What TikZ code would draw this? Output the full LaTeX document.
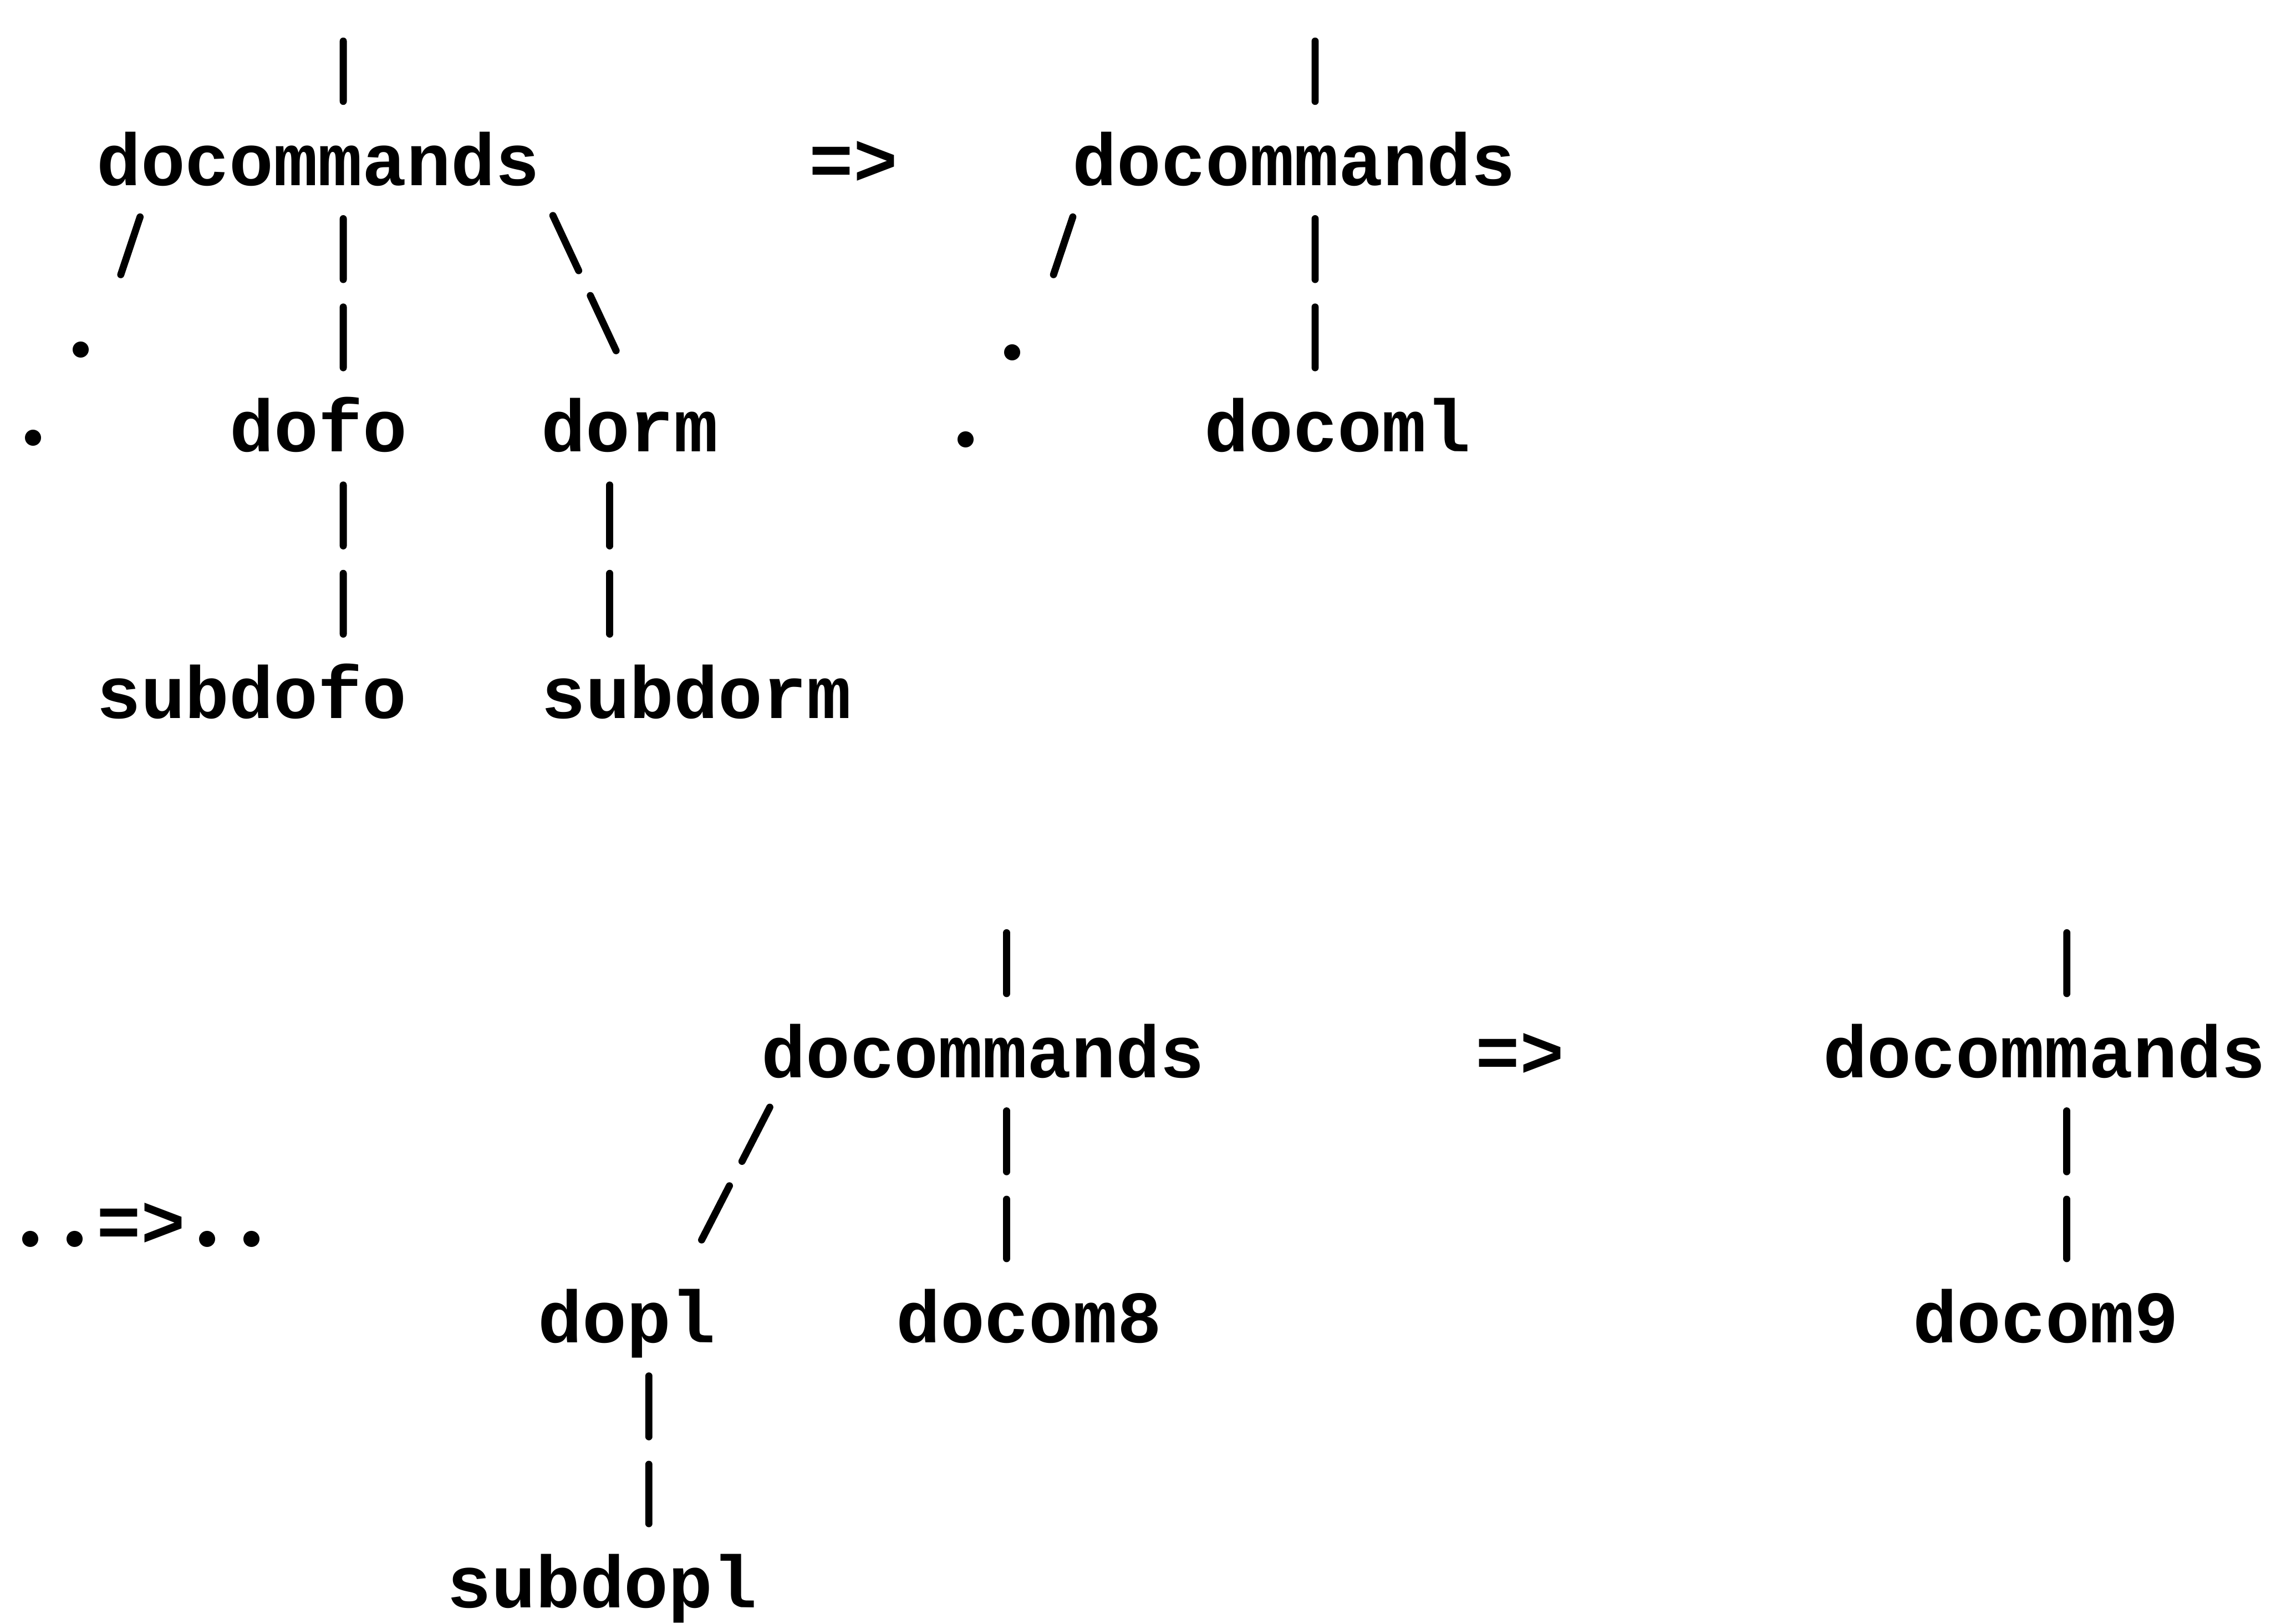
\documentclass[tikz,border=0pt]{standalone}
\usepackage{fontspec}
\setmonofont{Liberation Mono}

% round typed full stop, same cell width as the other letters
\newcommand\typedot{\makebox[0.6em]{\normalfont\bfseries\fontsize{22}{17}\selectfont.}}

\tikzset{
  word/.style={font=\fontsize{14.5}{17}\selectfont\ttfamily\bfseries,
               inner sep=0pt, anchor=base west},
  link/.style={line width=1.4pt, line cap=round,
               shorten <=0.23cm, shorten >=0.58cm,
               dash pattern=on 0.42cm off 0.19cm on 0.42cm off 2cm},
}

\begin{document}
\begin{tikzpicture}
\useasboundingbox (0,0) rectangle (15.68,-11.21);

% first rewrite
\node[word] (tl)      at (0.66,-1.28)  {docommands};
\node[word] (tldot1)  at (0.40,-2.47)  {\typedot};
\node[word] (tldot2)  at (0.07,-3.08)  {\typedot};
\node[word] (dofo)    at (1.58,-3.119) {dofo};
\node[word] (dorm)    at (3.73,-3.119) {dorm};
\node[word] (subdofo) at (0.66,-4.958) {subdofo};
\node[word] (subdorm) at (3.73,-4.958) {subdorm};
\coordinate (tlin) at (2.37,-0.054);

\draw[link] (tlin) -- ([xshift=1.71cm]tl.base west);
\draw[link] ([xshift=0.38cm]tl.base west) -- ([xshift=0.23cm,yshift=-0.036cm]tldot1.base west);
\draw[link] ([xshift=1.71cm]tl.base west) -- ([xshift=0.79cm]dofo.base west);
\draw[link] ([xshift=3.06cm]tl.base west) -- ([xshift=0.85cm]dorm.base west);
\draw[link] ([xshift=0.79cm]dofo.base west) -- ([xshift=1.71cm]subdofo.base west);
\draw[link] ([xshift=0.48cm]dorm.base west) -- ([xshift=0.48cm]subdorm.base west);

\node[word] (to1) at (5.58,-1.28) {=>};

\node[word] (tr)     at (7.40,-1.28)  {docommands};
\node[word] (trdot1) at (6.83,-2.49)  {\typedot};
\node[word] (trdot2) at (6.51,-3.09)  {\typedot};
\node[word] (docoml) at (8.31,-3.119) {docoml};
\coordinate (trin) at (9.08,-0.054);

\draw[link] (trin) -- ([xshift=1.68cm]tr.base west);
\draw[link] ([xshift=0.08cm]tr.base west) -- ([xshift=0.24cm,yshift=-0.016cm]trdot1.base west);
\draw[link] ([xshift=1.68cm]tr.base west) -- ([xshift=0.77cm]docoml.base west);

% second rewrite
\node[word] (lead) at (0.05,-8.61) {\typedot\typedot=>\typedot\typedot};

\node[word] (bl)      at (5.25,-7.44)   {docommands};
\node[word] (dopl)    at (3.71,-9.27)   {dopl};
\node[word] (docom8)  at (6.18,-9.27)   {docom8};
\node[word] (subdopl) at (3.08,-11.10)  {subdopl};
\coordinate (blin) at (6.95,-6.21);

\draw[link] (blin) -- ([xshift=1.70cm]bl.base west);
\draw[link] ([xshift=0.17cm]bl.base west) -- ([xshift=0.77cm]dopl.base west);
\draw[link] ([xshift=1.70cm]bl.base west) -- ([xshift=0.77cm]docom8.base west);
\draw[link] ([xshift=0.77cm]dopl.base west) -- ([xshift=1.40cm]subdopl.base west);

\node[word] (to2) at (10.18,-7.44) {=>};

\node[word] (br)     at (12.58,-7.44) {docommands};
\node[word] (docom9) at (13.20,-9.27) {docom9};
\coordinate (brin) at (14.27,-6.21);

\draw[link] (brin) -- ([xshift=1.69cm]br.base west);
\draw[link] ([xshift=1.69cm]br.base west) -- ([xshift=1.07cm]docom9.base west);

\end{tikzpicture}
\end{document}
